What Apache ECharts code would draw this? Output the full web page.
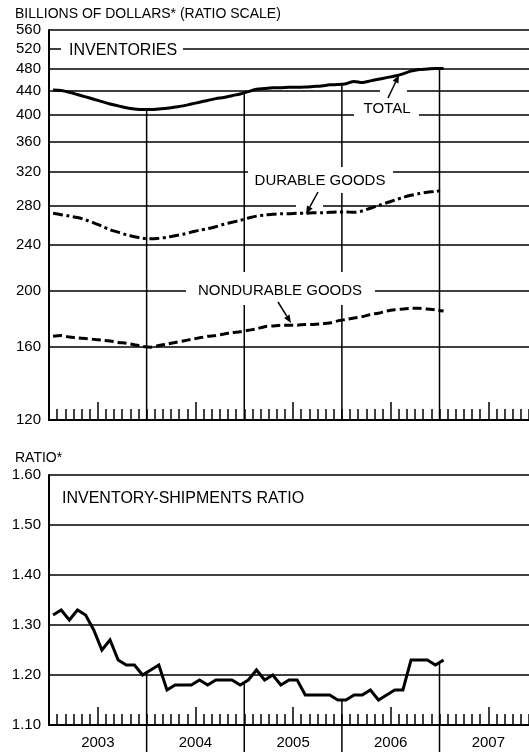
<!DOCTYPE html>
<html>
<head>
<meta charset="utf-8">
<script src="https://cdn.jsdelivr.net/npm/echarts@6/dist/echarts.min.js"></script>
<style>
html, body { margin: 0; padding: 0; background: #fff; }
#chart { width: 529px; height: 752px; }
</style>
</head>
<body>
<div id="chart"></div>
<script>
// data: monthly, Jan 2003 - Jan 2007, plotted at mid-month
var years = ['2003', '2004', '2005', '2006', '2007'];
var invTicks = [120, 160, 200, 240, 280, 320, 360, 400, 440, 480, 520, 560];
var yearStarts = [12, 24, 36, 48];          // months after Jan 2003
var midYears = [6, 18, 30, 42, 54];

var total = [442, 441, 438, 434, 430, 426, 422, 418, 415, 412, 410, 409,
             409, 410, 411, 413, 415, 418, 421, 424, 427, 429, 432, 435,
             439, 443, 444.5, 446, 446, 446.5, 446.5, 447, 448, 449, 451, 451.5,
             453, 457, 455, 458, 461, 464, 467, 471, 476, 479, 480, 481,
             481];
var durable = [271.5, 270, 268.5, 267, 264.5, 261.5, 258, 254.5, 252, 249.5, 247.5, 246,
               245.5, 246, 247, 248.5, 250, 252, 254, 255.5, 257.5, 260, 262, 264,
               266.5, 268.5, 269.5, 270.5, 271, 271, 271.5, 271.5, 272, 272, 272.5, 273,
               273, 272.5, 274, 277, 280, 283, 286, 289, 291.5, 293.5, 295, 296,
               297.5];
var nondurable = [167, 167.5, 166.5, 166, 165.5, 165, 164.5, 164, 163, 162.5, 161.5, 160.5,
                  160, 161, 162, 163, 164, 165, 166, 167, 167.5, 168.5, 169.5, 170,
                  171, 172, 173.5, 174, 174.5, 174.5, 174.5, 175, 175, 175.5, 176, 177.5,
                  178.5, 179.5, 180.5, 182, 183, 184.5, 185.5, 186, 186.5, 186.5, 186, 185.5,
                  184.5];
var ratio = [1.32, 1.33, 1.31, 1.33, 1.32, 1.29, 1.25, 1.27, 1.23, 1.22, 1.22, 1.20,
             1.21, 1.22, 1.17, 1.18, 1.18, 1.18, 1.19, 1.18, 1.19, 1.19, 1.19, 1.18,
             1.19, 1.21, 1.19, 1.20, 1.18, 1.19, 1.19, 1.16, 1.16, 1.16, 1.16, 1.15,
             1.15, 1.16, 1.16, 1.17, 1.15, 1.16, 1.17, 1.17, 1.23, 1.23, 1.23, 1.22,
             1.23];

var FONT = '"Liberation Sans", Arial, sans-serif';
var logTicks = invTicks.map(function (v) { return Math.log(v); });

function toSeries(arr, useLog) {
    return arr.map(function (v, i) { return [i + 0.5, useLog ? Math.log(v) : v]; });
}

// vertical year lines, from the curve down to the axis (bottom panel: to the page edge)
function yearLineData(arr, useLog, base) {
    return yearStarts.map(function (m) {
        var a = useLog ? Math.log(arr[m - 1]) : arr[m - 1];
        var b = useLog ? Math.log(arr[m]) : arr[m];
        return [m, (a + b) / 2, base];
    });
}
function yearLine(toEdge) {
    return function (params, api) {
        var p1 = api.coord([api.value(0), api.value(1)]);
        var p2 = api.coord([api.value(0), api.value(2)]);
        return {
            type: 'line',
            shape: { x1: p1[0], y1: p1[1], x2: p2[0], y2: toEdge ? api.getHeight() : p2[1] },
            style: { stroke: '#000', lineWidth: 1.5 }
        };
    };
}

function xAxes(gridIndex, withLabels) {
    return [{
        type: 'value', gridIndex: gridIndex, position: 'bottom', min: 0, max: 59, interval: 1,
        axisLine: { show: true, lineStyle: { color: '#000', width: 2 } },
        axisTick: { show: true, inside: true, length: 11, lineStyle: { color: '#000', width: 1.5 } },
        axisLabel: { show: false },
        splitLine: { show: false }
    }, {
        type: 'value', gridIndex: gridIndex, position: 'bottom', min: 0, max: 59,
        axisLine: { show: false },
        axisTick: { show: true, inside: true, length: 18, customValues: midYears,
            lineStyle: { color: '#000', width: 1.5 } },
        axisLabel: { show: withLabels, customValues: midYears, margin: 10,
            fontFamily: FONT, fontSize: 15, color: '#000',
            formatter: function (v) { return years[(v - 6) / 12]; } },
        splitLine: { show: false }
    }];
}

function rect(x, y, w, h) {
    return { type: 'rect', z: 50, shape: { x: x, y: y, width: w, height: h }, style: { fill: '#fff' } };
}
function label(text, x, y, size, align) {
    return { type: 'text', z: 60, style: { text: text, x: x, y: y, fill: '#000',
        font: size + 'px ' + FONT, textAlign: align || 'left', textVerticalAlign: 'middle' } };
}
function arrow(x1, y1, x2, y2) {
    var a = Math.atan2(y2 - y1, x2 - x1), L = 8, W = 3.2;
    var bx = x2 - L * Math.cos(a), by = y2 - L * Math.sin(a);
    return [
        { type: 'line', z: 60, shape: { x1: x1, y1: y1, x2: bx, y2: by }, style: { stroke: '#000', lineWidth: 1.5 } },
        { type: 'polygon', z: 60, shape: { points: [[x2, y2],
            [bx - W * Math.sin(a), by + W * Math.cos(a)], [bx + W * Math.sin(a), by - W * Math.cos(a)]] },
          style: { fill: '#000' } }
    ];
}

var chart = echarts.init(document.getElementById('chart'), null, { renderer: 'canvas' });

var option = {
    animation: false,
    backgroundColor: '#fff',
    grid: [
        { left: 49, right: 0, top: 30, height: 390 },
        { left: 49, right: 0, top: 475, height: 250 }
    ],
    xAxis: xAxes(0, false).concat(xAxes(1, true)),
    yAxis: [{
        type: 'value', gridIndex: 0, min: Math.log(120), max: Math.log(560),
        axisLine: { show: true, lineStyle: { color: '#000', width: 2 } },
        axisTick: { show: false, customValues: logTicks },
        axisLabel: { customValues: logTicks, margin: 8, fontFamily: FONT, fontSize: 15, color: '#000',
            formatter: function (v) { return Math.round(Math.exp(v)); } },
        splitLine: { show: true, lineStyle: { color: '#000', width: 1.5 } }
    }, {
        type: 'value', gridIndex: 1, min: 1.1, max: 1.6, interval: 0.1,
        axisLine: { show: true, lineStyle: { color: '#000', width: 2 } },
        axisTick: { show: false },
        axisLabel: { margin: 8, fontFamily: FONT, fontSize: 15, color: '#000',
            formatter: function (v) { return v.toFixed(2); } },
        splitLine: { show: true, lineStyle: { color: '#000', width: 1.5 } }
    }],
    series: [
        { type: 'custom', xAxisIndex: 0, yAxisIndex: 0, z: 1, renderItem: yearLine(false),
          data: yearLineData(total, true, Math.log(120)) },
        { type: 'custom', xAxisIndex: 2, yAxisIndex: 1, z: 1, renderItem: yearLine(true),
          data: yearLineData(ratio, false, 1.1) },
        { name: 'TOTAL', type: 'line', xAxisIndex: 0, yAxisIndex: 0, showSymbol: false, smooth: 0.3,
          lineStyle: { color: '#000', width: 3 }, data: toSeries(total, true) },
        { name: 'DURABLE GOODS', type: 'line', xAxisIndex: 0, yAxisIndex: 0, showSymbol: false, smooth: 0.3,
          lineStyle: { color: '#000', width: 3, type: [10, 3.5, 3, 3.5] }, data: toSeries(durable, true) },
        { name: 'NONDURABLE GOODS', type: 'line', xAxisIndex: 0, yAxisIndex: 0, showSymbol: false, smooth: 0.3,
          lineStyle: { color: '#000', width: 3, type: [9, 4] }, data: toSeries(nondurable, true) },
        { name: 'RATIO', type: 'line', xAxisIndex: 2, yAxisIndex: 1, showSymbol: false,
          lineStyle: { color: '#000', width: 3, join: 'miter' }, data: toSeries(ratio, false) }
    ],
    graphic: [
        label('BILLIONS OF DOLLARS* (RATIO SCALE)', 15, 14, 14),
        label('RATIO*', 15, 458, 14),
        rect(61, 40, 122, 18), label('INVENTORIES', 69, 51, 16),
        rect(354, 99, 65, 20), label('TOTAL', 387, 109, 15, 'center'),
        rect(380, 87, 27, 7),
        rect(248, 167, 145, 26), label('DURABLE GOODS', 320, 181, 15, 'center'),
        rect(296, 202, 27, 7),
        rect(186, 272, 189, 33), label('NONDURABLE GOODS', 280, 291, 15, 'center'),
        label('INVENTORY-SHIPMENTS RATIO', 62, 499, 16)
    ].concat(arrow(388, 98, 399, 75), arrow(318, 192, 306, 214), arrow(278, 302, 291, 323))
};

chart.setOption(option);
</script>
</body>
</html>
